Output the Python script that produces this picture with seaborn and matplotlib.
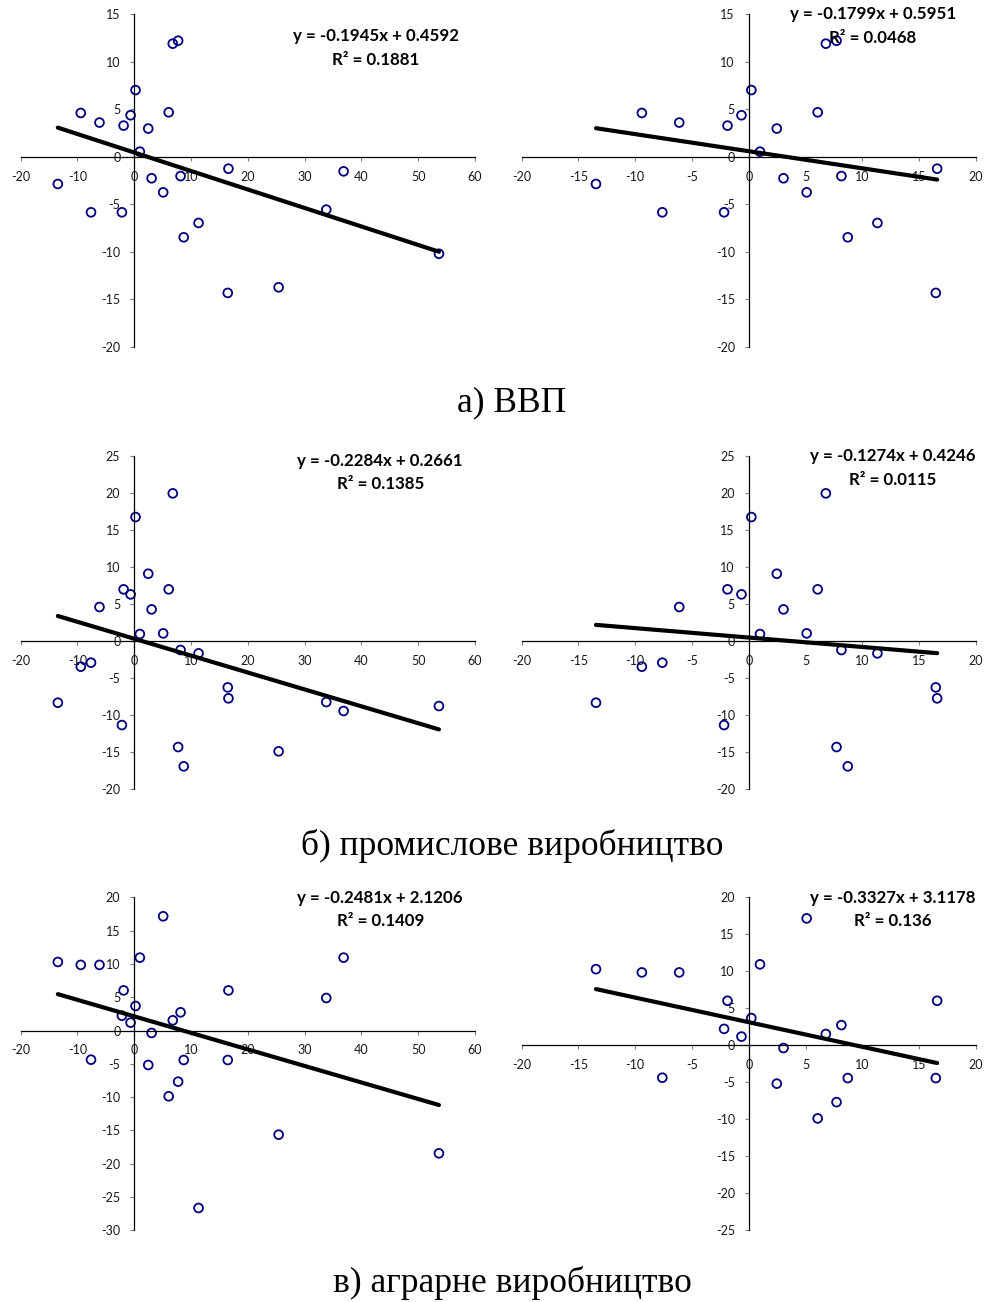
import numpy as np
import pandas as pd
import matplotlib
matplotlib.use("Agg")
import matplotlib.pyplot as plt
import seaborn as sns

# ---------------- data ----------------
x_all = [-13.46, -9.42, -7.62, -6.13, -2.18, -1.88, -0.65, 0.22, 0.98, 2.46,
         3.05, 5.09, 6.06, 6.78, 7.72, 8.15, 8.71, 11.32, 16.46, 16.58,
         25.42, 33.81, 36.86, 53.65]
gdp = [-2.85, 4.62, -5.83, 3.61, -5.83, 3.29, 4.38, 7.03, 0.55, 2.98,
       -2.25, -3.73, 4.69, 11.91, 12.22, -2.02, -8.46, -6.95, -14.31, -1.24,
       -13.72, -5.55, -1.52, -10.19]
industry = [-8.38, -3.51, -2.97, 4.55, -11.40, 6.94, 6.26, 16.71, 0.90, 9.05,
            4.23, 0.99, 6.94, 19.91, -14.37, -1.26, -16.98, -1.71, -6.31, -7.79,
            -14.95, -8.29, -9.50, -8.83]
agri = [10.29, 9.85, -4.38, 9.85, 2.22, 6.02, 1.18, 3.68, 10.94, -5.18,
        -0.37, 17.15, -9.88, 1.53, -7.68, 2.73, -4.43, -26.65, -4.43, 6.02,
        -15.64, 4.88, 10.94, -18.44]
n_right = 20  # right-hand panels use only observations with x < 20

slopes_left = [-0.1945, -0.2284, -0.2481]
intercepts_left = [0.4592, 0.2661, 2.1206]
r2_left = ["0.1881", "0.1385", "0.1409"]
slopes_right = [-0.1799, -0.1274, -0.3327]
intercepts_right = [0.5951, 0.4246, 3.1178]
r2_right = ["0.0468", "0.0115", "0.136"]

captions = ["а) ВВП", "б) промислове виробництво", "в) аграрне виробництво"]

# ---------------- style ----------------
sns.set_theme(style="white")
plt.rcParams["font.family"] = ["Lato", "DejaVu Sans"]

W, H = 984, 1302
fig = plt.figure(figsize=(W / 100, H / 100), dpi=100)

def fx(px):
    return px / W

def fy(py):
    return 1 - py / H

col_left = [20.7, 475.0]
col_right = [521.7, 976.0]
rows_px = [(14.3, 347.0), (455.7, 788.7), (897.3, 1230.3)]
ylims_left = [(-20, 15), (-20, 25), (-30, 20)]
ylims_right = [(-20, 15), (-20, 25), (-25, 20)]
eq_pos_left = [((376, 36), (375.5, 60)), ((380, 461), (380.5, 484)), ((380, 898), (380.5, 921))]
eq_pos_right = [((873, 14), (873, 38)), ((893, 456), (892.5, 480)), ((893, 898), (892.5, 921))]
caption_base = [411.5, 855, 1292]

series = [gdp, industry, agri]
navy = "#000080"

def panel(ax, xs, ys, xlim, ylim, xstep, slope, icpt):
    df = pd.DataFrame({"x": xs, "y": ys})
    sns.scatterplot(data=df, x="x", y="y", ax=ax, marker="o", s=40,
                    facecolors="none", edgecolor=navy, linewidth=1.3, zorder=2)
    xl = np.array([min(xs), max(xs)])
    sns.lineplot(x=xl, y=slope * xl + icpt, ax=ax, color="black", lw=3.0,
                 zorder=3, solid_capstyle="round")
    ax.set_xlim(*xlim)
    ax.set_ylim(*ylim)
    ax.set_xticks(np.arange(xlim[0], xlim[1] + 0.1, xstep))
    ax.set_yticks(np.arange(ylim[0], ylim[1] + 0.1, 5))
    ax.set_xticklabels([f"{int(v)}" for v in ax.get_xticks()])
    ax.set_yticklabels([f"{int(v)}" for v in ax.get_yticks()])
    ax.set_xlabel("")
    ax.set_ylabel("")
    for s in ["top", "right"]:
        ax.spines[s].set_visible(False)
    ax.spines["left"].set_position(("data", 0))
    ax.spines["bottom"].set_position(("data", 0))
    for s in ["left", "bottom"]:
        ax.spines[s].set_color("black")
        ax.spines[s].set_linewidth(0.9)
    ax.tick_params(axis="both", which="major", direction="out", length=3,
                   width=0.8, color="#808080", labelsize=9,
                   labelcolor="#1a1a1a", pad=7)
    ax.tick_params(axis="x", bottom=True)
    ax.tick_params(axis="y", left=True)
    ax.patch.set_alpha(0)
    ax.grid(False)

for r in range(3):
    top, bot = rows_px[r]
    for c in range(2):
        cols = col_left if c == 0 else col_right
        ax = fig.add_axes([fx(cols[0]), fy(bot), fx(cols[1] - cols[0]), (bot - top) / H])
        if c == 0:
            panel(ax, x_all, series[r], (-20, 60), ylims_left[r], 10,
                  slopes_left[r], intercepts_left[r])
            sl, ic, r2, pos = slopes_left[r], intercepts_left[r], r2_left[r], eq_pos_left[r]
        else:
            panel(ax, x_all[:n_right], series[r][:n_right], (-20, 20), ylims_right[r], 5,
                  slopes_right[r], intercepts_right[r])
            sl, ic, r2, pos = slopes_right[r], intercepts_right[r], r2_right[r], eq_pos_right[r]
        eq = f"y = {sl:.4f}x + {ic:.4f}"
        fig.text(fx(pos[0][0]), fy(pos[0][1]), eq, ha="center", va="center",
                 fontsize=12.2, fontweight="bold", color="black", zorder=5)
        fig.text(fx(pos[1][0]), fy(pos[1][1]), f"R² = {r2}", ha="center", va="center",
                 fontsize=12.2, fontweight="bold", color="black", zorder=5)
    fig.text(fx(512), fy(caption_base[r]), captions[r], ha="center", va="baseline",
             fontsize=25.5, family=["Liberation Serif", "DejaVu Serif"], color="black")

fig.savefig("out.png", dpi=100)
